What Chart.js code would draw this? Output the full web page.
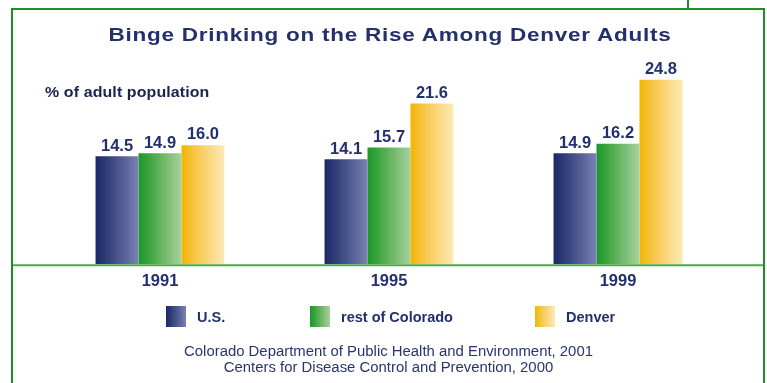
<!DOCTYPE html>
<html>
<head>
<meta charset="utf-8">
<script src="https://cdn.jsdelivr.net/npm/chart.js@4/dist/chart.umd.min.js"></script>
<style>
  html, body { margin: 0; padding: 0; background: #fff; }
  body { width: 767px; height: 383px; position: relative; overflow: hidden; font-family: "Liberation Sans", Arial, sans-serif; }
  #chart { position: absolute; left: 0; top: 0; }
  .frame { position: absolute; left: 11px; top: 8px; width: 750px; height: 420px; border: 2px solid #1e8f24; border-bottom: none; }
  .notch { position: absolute; left: 687px; top: 0; width: 2px; height: 9px; background: #1e8f24; }
  .title { position: absolute; left: 0; width: 780px; top: 25px; text-align: center; font-weight: bold; font-size: 18px; letter-spacing: 0.6px; color: #22306e; transform: scaleX(1.25); transform-origin: 390px 0; }
  .ylabel { position: absolute; left: 45px; top: 84px; font-weight: bold; font-size: 14.5px; letter-spacing: 0.1px; color: #1c2350; transform: scaleX(1.1); transform-origin: 0 0; }
  .legend { position: absolute; top: 306px; left: 0; width: 767px; height: 22px; }
  .legend .item { position: absolute; top: 0; display: flex; align-items: center; font-weight: bold; font-size: 14.5px; color: #22306e; }
  .legend .swatch { width: 20px; height: 21px; margin-right: 11px; }
  .note { position: absolute; left: 0; width: 777px; top: 343px; text-align: center; font-size: 14.9px; line-height: 16px; color: #2a3470; }
</style>
</head>
<body>
<canvas id="chart" width="767" height="383"></canvas>
<div class="frame"></div>
<div class="notch"></div>
<div class="title">Binge Drinking on the Rise Among Denver Adults</div>
<div class="ylabel">% of adult population</div>
<div class="legend" id="legend"></div>
<div class="note">Colorado Department of Public Health and Environment, 2001<br>Centers for Disease Control and Prevention, 2000</div>
<script>
const years = ["1991", "1995", "1999"];
const seriesNames = ["U.S.", "rest of Colorado", "Denver"];
const usValues = [14.5, 14.1, 14.9];
const coloradoValues = [14.9, 15.7, 16.2];
const denverValues = [16.0, 21.6, 24.8];

// shades run dark on the left of each bar to pale on the right
const shades = [
  ["#1b2a67", "#2e3c78", "#47538b", "#60699e", "#7c83b5"],
  ["#18982a", "#3da53f", "#62b35e", "#86c27e", "#a7d19d"],
  ["#f2b500", "#f5c33a", "#f8d067", "#fbdd90", "#fde9b6"]
];
const legendLeft = [166, 310, 535];

function shadeGradient(ctx, left, width, colors) {
  const g = ctx.createLinearGradient(left, 0, left + width, 0);
  colors.forEach((c, i) => g.addColorStop(i / (colors.length - 1), c));
  return g;
}

// each bar gets its own gradient once its position is known
const barShading = {
  id: "barShading",
  beforeDatasetsDraw(chart) {
    const ctx = chart.ctx;
    chart.data.datasets.forEach((ds, di) => {
      chart.getDatasetMeta(di).data.forEach((bar) => {
        bar.options.backgroundColor = shadeGradient(ctx, bar.x - bar.width / 2, bar.width, shades[di]);
      });
    });
  }
};

const valueLabels = {
  id: "valueLabels",
  afterDatasetsDraw(chart) {
    const ctx = chart.ctx;
    ctx.save();
    ctx.font = "bold 16.5px 'Liberation Sans', Arial, sans-serif";
    ctx.fillStyle = "#22306e";
    ctx.textAlign = "center";
    ctx.textBaseline = "bottom";
    chart.data.datasets.forEach((ds, di) => {
      chart.getDatasetMeta(di).data.forEach((bar, i) => {
        ctx.fillText(ds.data[i].toFixed(1), bar.x, bar.y - 2);
      });
    });
    ctx.restore();
  }
};

const baseLine = {
  id: "baseLine",
  afterDatasetsDraw(chart) {
    const ctx = chart.ctx;
    const y = chart.scales.y.getPixelForValue(0) + 1;
    ctx.save();
    ctx.strokeStyle = "#4aa84c";
    ctx.lineWidth = 2;
    ctx.beginPath();
    ctx.moveTo(12, y);
    ctx.lineTo(763, y);
    ctx.stroke();
    ctx.restore();
  }
};

new Chart(document.getElementById("chart"), {
  type: "bar",
  data: {
    labels: years,
    datasets: seriesNames.map((name, i) => ({
      label: name,
      data: [usValues, coloradoValues, denverValues][i],
      backgroundColor: () => shades[i][0]
    }))
  },
  options: {
    responsive: false,
    animation: false,
    layout: { padding: { left: 45.5, right: 34.5, top: 41, bottom: 85 } },
    datasets: { bar: { categoryPercentage: 0.563, barPercentage: 1, borderWidth: 0 } },
    plugins: { legend: { display: false }, tooltip: { enabled: false } },
    scales: {
      x: {
        grid: { display: false, drawTicks: false },
        border: { display: false },
        ticks: { padding: 7, color: "#22306e", font: { family: "'Liberation Sans', Arial, sans-serif", size: 16.5, weight: "bold" } }
      },
      y: { display: false, min: 0, max: 30 }
    }
  },
  plugins: [barShading, valueLabels, baseLine]
});

// legend swatches use the same shades
const legend = document.getElementById("legend");
seriesNames.forEach((name, i) => {
  const item = document.createElement("div");
  item.className = "item";
  item.style.left = legendLeft[i] + "px";
  const sw = document.createElement("div");
  sw.className = "swatch";
  sw.style.background = `linear-gradient(to right, ${shades[i].join(", ")})`;
  const label = document.createElement("span");
  label.textContent = name;
  item.appendChild(sw);
  item.appendChild(label);
  legend.appendChild(item);
});
</script>
</body>
</html>
